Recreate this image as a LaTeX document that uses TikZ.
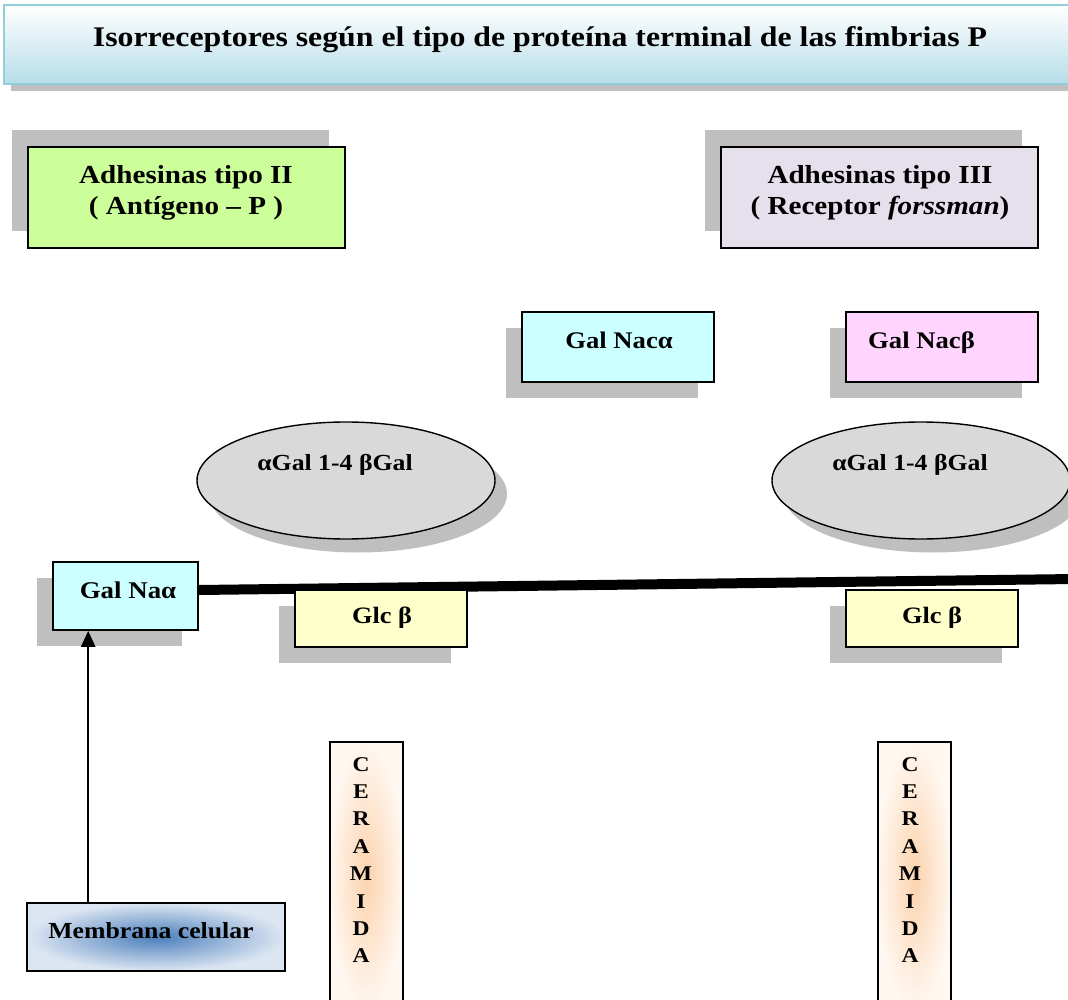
\documentclass[tikz,border=0pt]{standalone}
\usepackage{fontspec}
\setmainfont{Liberation Serif}[FakeStretch=1.12]
\usetikzlibrary{arrows.meta,shapes.geometric}
\definecolor{shadowgray}{HTML}{BFBFBF}
\definecolor{titleblue}{HTML}{B6DDE8}
\definecolor{titleborder}{HTML}{92CDDC}
\definecolor{greenfill}{HTML}{CCFF99}
\definecolor{lilacfill}{HTML}{E5E0EC}
\definecolor{cyanfill}{HTML}{CCFFFF}
\definecolor{pinkfill}{HTML}{FFD5FF}
\definecolor{yellowfill}{HTML}{FFFFCC}
\definecolor{ellfill}{HTML}{D9D9D9}
\definecolor{membin}{HTML}{4A7EBB}
\definecolor{membout}{HTML}{DCE6F2}
\definecolor{cerin}{HTML}{FCD3AE}
\definecolor{cerout}{HTML}{FFF7F0}
\tikzset{
  boxnode/.style={draw=black, line width=1.6pt, rectangle, inner sep=0pt},
  shadownode/.style={fill=shadowgray, draw=none, rectangle, inner sep=0pt},
  ellnode/.style={draw=black, line width=1.4pt, ellipse, fill=ellfill, inner sep=0pt,
                  minimum width=298pt, minimum height=117pt},
  ellshadow/.style={fill=shadowgray, draw=none, ellipse, inner sep=0pt,
                  minimum width=298pt, minimum height=117pt},
  lbl/.style={font=\bfseries\fontsize{23}{27}\selectfont, anchor=base, inner sep=0pt},
  biglbl/.style={font=\bfseries\fontsize{26}{31}\selectfont, anchor=base, inner sep=0pt},
  cerlbl/.style={font=\bfseries\fontsize{21}{27.4}\selectfont, anchor=north, inner sep=0pt, align=center},
}
\begin{document}
\begin{tikzpicture}[x=1pt,y=-1pt]
\useasboundingbox (0,0) rectangle (1068,1000);

% title
\node[shadownode, minimum width=1068pt, minimum height=79pt] (titlesh) at (545,51.5) {};
\node[rectangle, inner sep=0pt, draw=titleborder, line width=2pt, top color=white, bottom color=titleblue,
      minimum width=1068pt, minimum height=79pt] (titlebox) at (538,44.5) {};
\node[biglbl, font=\bfseries\fontsize{28.4}{33}\selectfont] (titletext) at (540,47) {Isorreceptores según el tipo de proteína terminal de las fimbrias P};

% Adhesinas tipo II
\node[shadownode, minimum width=317pt, minimum height=101pt] (a2sh) at (170.5,181) {};
\node[boxnode, fill=greenfill, minimum width=317pt, minimum height=101pt] (a2) at (186.5,197.5) {};
\node[biglbl] (a2t1) at (186,184) {Adhesinas tipo II};
\node[biglbl] (a2t2) at (186,215) {( Antígeno – P )};

% Adhesinas tipo III
\node[shadownode, minimum width=317pt, minimum height=101pt] (a3sh) at (863.5,181) {};
\node[boxnode, fill=lilacfill, minimum width=317pt, minimum height=101pt] (a3) at (879.5,197.5) {};
\node[biglbl] (a3t1) at (880,184) {Adhesinas tipo III};
\node[biglbl] (a3t2) at (880,215) {( Receptor \textit{forssman})};

% Gal Nac alpha / beta
\node[shadownode, minimum width=192pt, minimum height=70pt] (gnash) at (602,363) {};
\node[boxnode, fill=cyanfill, minimum width=192pt, minimum height=70pt] (gnalpha) at (618,347) {};
\node[lbl, font=\bfseries\fontsize{23.8}{28}\selectfont] (gnat) at (619,348) {Gal Nacα};

\node[shadownode, minimum width=192pt, minimum height=70pt] (gnbsh) at (926,363) {};
\node[boxnode, fill=pinkfill, minimum width=192pt, minimum height=70pt] (gnbeta) at (942,347) {};
\node[lbl, anchor=base west, font=\bfseries\fontsize{23.8}{28}\selectfont] (gnbt) at (868,348) {Gal Nacβ};

% ellipses
\node[ellshadow] (e1sh) at (358,494) {};
\node[ellnode] (e1) at (346,480.5) {};
\node[lbl] (e1t) at (335,470) {αGal 1-4 βGal};

\node[ellshadow] (e2sh) at (933,494) {};
\node[ellnode] (e2) at (921,480.5) {};
\node[lbl] (e2t) at (910,470) {αGal 1-4 βGal};

% Gal Na alpha
\node[shadownode, minimum width=145pt, minimum height=68pt] (galnash) at (109.5,612) {};
\node[boxnode, fill=cyanfill, minimum width=145pt, minimum height=68pt] (galna) at (125.5,596) {};
\node[lbl, font=\bfseries\fontsize{24}{28}\selectfont] (galnat) at (128,598) {Gal Naα};

% thick line
\coordinate (lineend) at (1075,579);
\draw[line width=10pt] ([yshift=6pt]galna.east) -- (lineend);

% Glc beta boxes
\node[shadownode, minimum width=172pt, minimum height=57pt] (glc1sh) at (365,634.5) {};
\node[boxnode, fill=yellowfill, minimum width=172pt, minimum height=57pt] (glc1) at (381,618.5) {};
\node[lbl, font=\bfseries\fontsize{23.5}{27}\selectfont] (glc1t) at (382,623) {Glc β};

\node[shadownode, minimum width=172pt, minimum height=57pt] (glc2sh) at (916,634.5) {};
\node[boxnode, fill=yellowfill, minimum width=172pt, minimum height=57pt] (glc2) at (932,618.5) {};
\node[lbl, font=\bfseries\fontsize{23.5}{27}\selectfont] (glc2t) at (932,623) {Glc β};

% Membrana celular
\node[boxnode, shading=radial, inner color=membin, outer color=membout,
      minimum width=258pt, minimum height=68pt] (memb) at (156,937) {};
\node[lbl] (membt) at (151,938) {Membrana celular};

% arrow
\draw[line width=2.5pt, -{Triangle[length=16pt,width=14pt]}]
  ([xshift=62pt]memb.north west) -- ([xshift=62pt]memb.north west |- galna.south);

% Ceramida columns
\node[boxnode, shading=radial, inner color=cerin, outer color=cerout,
      minimum width=73pt, minimum height=268pt] (cer1) at (366.5,876) {};
\node[cerlbl] (cer1t) at (361,757) {C\\E\\R\\A\\M\\I\\D\\A};

\node[boxnode, shading=radial, inner color=cerin, outer color=cerout,
      minimum width=73pt, minimum height=268pt] (cer2) at (914.5,876) {};
\node[cerlbl] (cer2t) at (910,757) {C\\E\\R\\A\\M\\I\\D\\A};

\end{tikzpicture}
\end{document}
